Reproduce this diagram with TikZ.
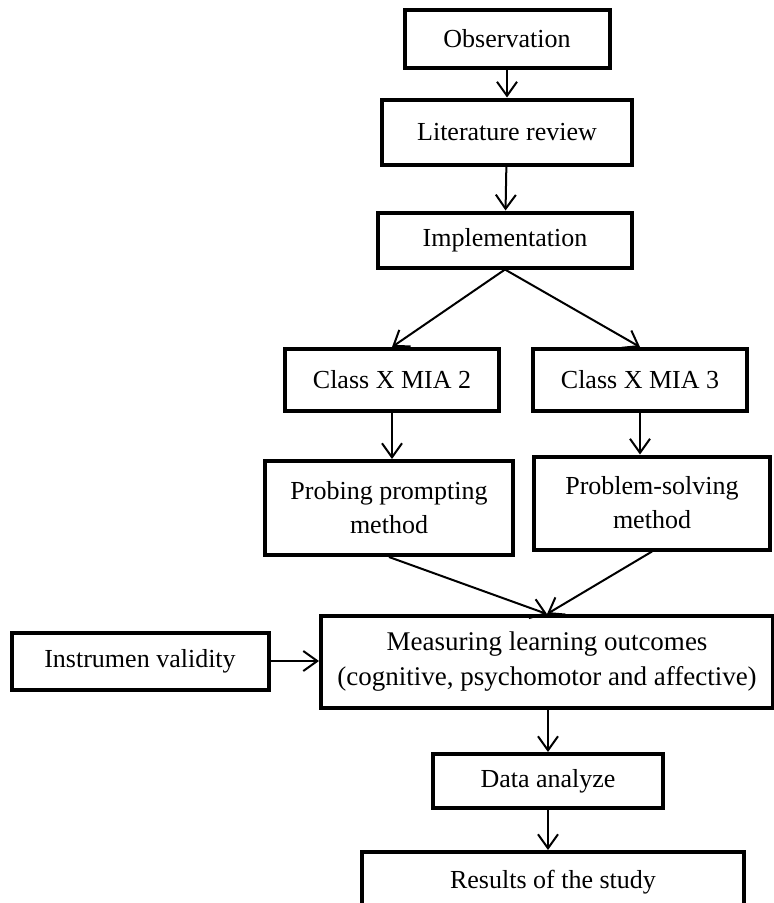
\documentclass[tikz,border=0pt]{standalone}
\usepackage{fontspec}
\setmainfont{Liberation Serif}
\usetikzlibrary{arrows.meta}
\usetikzlibrary{calc}
\tikzset{
	blk/.style args={#1x#2}{
		draw, line width=4pt, rectangle, align=center,
		minimum width=#1pt, minimum height=#2pt, inner sep=0pt
	},
	link/.style={
		-{Straight Barb[length=14pt,width=20pt,line width=2pt]}, line width=2pt
	}
}

\begin{document}
\begin{tikzpicture}[x=1pt,y=-1pt,font=\fontsize{26}{34}\selectfont]
	\useasboundingbox (0,0) rectangle (774,903);

	\node[blk=205x58] (obs) at (507,39) {Observation};
	\node[blk=250x65] (lit) at (507,132) {Literature review};
	\node[blk=254x55] (imp) at (505,240) {Implementation};
	\node[blk=214x62] (cls2) at (392,380) {Class X MIA 2};
	\node[blk=214x62] (cls3) at (640,380) {Class X MIA 3};
	\node[blk=248x94] (ppm) at (389,508) {Probing prompting\\method};
	\node[blk=236x93] (psm) at (652,503) {Problem-solving\\method};
	\node[blk=452x92,font=\fontsize{27}{35}\selectfont] (mlo) at (547,662) {Measuring learning outcomes\\(cognitive, psychomotor and affective)};
	\node[blk=257x57] (inv) at (140,661) {Instrumen validity};
	\node[blk=230x54] (dat) at (548,781) {Data analyze};
	\node[blk=382x60] (res) at (553,882) {Results of the study};

	\draw[link] (obs) -- (lit);
	\draw[link] (lit) -- (imp);
	\draw[link] (imp.south) -- (cls2.north);
	\draw[link] (imp.south) -- (cls3.north);
	\draw[link] (cls2.south) -- (cls2.south |- ppm.north);
	\draw[link] (cls3.south) -- (cls3.south |- psm.north);
	\draw[link] (ppm.south) -- (mlo.north);
	\draw[link] (psm.south) -- (mlo.north);
	\draw[link] (inv.east) -- (inv.east -| mlo.west);
	\draw[link] (mlo.south -| dat.north) -- (dat.north);
	\draw[link] (dat.south) -- (dat.south |- res.north);
	\end{tikzpicture}
\end{document}
